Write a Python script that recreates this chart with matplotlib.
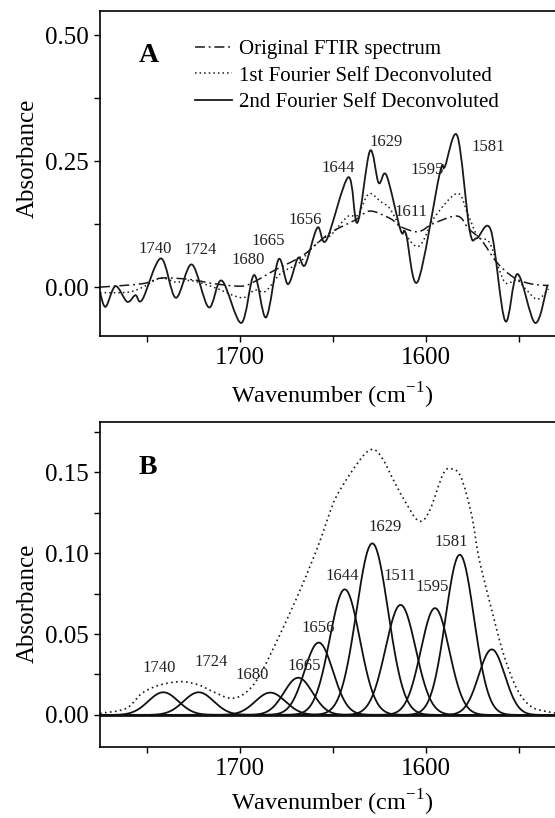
import numpy as np
import matplotlib
matplotlib.use("Agg")
import matplotlib.pyplot as plt
from matplotlib.path import Path
from matplotlib.patches import PathPatch
from matplotlib.lines import Line2D

plt.rcParams['font.family'] = ['Liberation Serif', 'DejaVu Serif']
plt.rcParams['mathtext.fontset'] = 'custom'
plt.rcParams['mathtext.rm'] = 'Liberation Serif'

# Panel A: spectra (wavenumber, absorbance)
fsd2_wn = [1775, 1772, 1766.7, 1760.4, 1756, 1752.3, 1742.3, 1734.3, 1725.7, 1716.6,
           1709.6, 1699.1, 1692.2, 1685.8, 1679.1, 1674.0, 1668.6, 1664.8, 1658.2, 1653.4,
           1641.6, 1636.7, 1630.0, 1625.3, 1621.1, 1613.5, 1610.6, 1604.3, 1592.5, 1589.7,
           1583.0, 1576.4, 1572.6, 1565.0, 1557.3, 1550.7, 1541.2, 1534.5]
fsd2_abs = [-0.010, -0.039, 0.002, -0.029, -0.016, -0.025, 0.057, -0.021, 0.045, -0.040,
            0.013, -0.071, 0.024, -0.060, 0.055, 0.006, 0.058, 0.044, 0.118, 0.093,
            0.218, 0.128, 0.270, 0.207, 0.222, 0.113, 0.106, 0.011, 0.225, 0.239,
            0.300, 0.113, 0.097, 0.113, -0.067, 0.026, -0.071, 0.005]

fsd1_wn = [1775, 1760, 1752, 1742.5, 1734, 1726, 1714, 1699, 1692, 1686, 1678, 1668,
           1662, 1655, 1651, 1642, 1636.5, 1630.6, 1624, 1619.5, 1613.5, 1604, 1595,
           1583, 1577.5, 1572, 1566, 1561, 1557, 1551, 1546, 1540, 1534]
fsd1_abs = [-0.011, -0.010, 0.000, 0.018, 0.010, 0.013, 0.000, -0.021, -0.006, -0.008,
            0.027, 0.048, 0.075, 0.097, 0.103, 0.140, 0.143, 0.185, 0.169, 0.157, 0.120,
            0.081, 0.140, 0.186, 0.146, 0.100, 0.090, 0.040, 0.008, 0.014, -0.005,
            -0.024, -0.004]

orig_wn = [1775, 1752, 1742, 1726, 1714, 1699, 1692, 1681, 1666, 1652, 1638, 1630,
           1619, 1613.5, 1604, 1596, 1583, 1577, 1570, 1562, 1553, 1544, 1534]
orig_abs = [0.000, 0.007, 0.018, 0.015, 0.007, 0.002, 0.011, 0.034, 0.063, 0.106, 0.133,
            0.151, 0.136, 0.120, 0.110, 0.126, 0.141, 0.116, 0.093, 0.050, 0.020, 0.007,
            0.003]

labels_a = ['1740', '1724', '1680', '1665', '1656', '1644', '1629', '1611', '1595', '1581']
labels_a_x = [1745.2, 1721.4, 1695.3, 1684.4, 1664.8, 1647.1, 1621.5, 1607.8, 1599.2, 1566.3]
labels_a_y = [0.075, 0.073, 0.054, 0.092, 0.133, 0.237, 0.288, 0.149, 0.232, 0.278]

# Panel B: fitted bands (centre, height, FWHM) and the envelope
band_center = [1741, 1722, 1683.5, 1668.5, 1657.5, 1643.5, 1628.7, 1613.5, 1595, 1581.7, 1564.5]
band_height = [0.014, 0.014, 0.0138, 0.023, 0.0447, 0.0776, 0.106, 0.068, 0.066, 0.099, 0.0405]
band_fwhm = [19, 19, 19, 18, 18, 19, 20, 19, 18, 18, 16.5]

env_wn = [1775, 1761, 1752.4, 1742.9, 1731.4, 1721.9, 1714.3, 1704.8, 1697.2, 1689.6,
          1678.2, 1666.8, 1657.3, 1649.6, 1643.9, 1638.2, 1632.5, 1627.7, 1623.0, 1617.3,
          1611.6, 1604.0, 1598.2, 1590.6, 1585.9, 1581.1, 1575.4, 1571.6, 1565.9, 1558.3,
          1550.7, 1543.1, 1534.5, 1529]
env_abs = [0.001, 0.004, 0.0134, 0.0185, 0.0206, 0.0185, 0.0144, 0.0103, 0.0134, 0.0237,
           0.050, 0.079, 0.106, 0.131, 0.143, 0.153, 0.1615, 0.164, 0.158, 0.145,
           0.133, 0.120, 0.1255, 0.149, 0.152, 0.147, 0.124, 0.098, 0.071, 0.038,
           0.0154, 0.005, 0.002, 0.001]

labels_b = ['1740', '1724', '1680', '1665', '1656', '1644', '1629', '1511', '1595', '1581']
labels_b_x = [1743.4, 1715.3, 1693.0, 1665.2, 1657.6, 1644.9, 1622.0, 1613.8, 1596.7, 1586.4]
labels_b_y = [0.029, 0.033, 0.0247, 0.030, 0.0535, 0.086, 0.116, 0.086, 0.079, 0.107]


def smooth_path(xs, ys):
    # Catmull-Rom curve through the read points, drawn as cubic Bezier segments
    pts = np.column_stack([xs, ys]).astype(float)
    verts = [pts[0]]
    codes = [Path.MOVETO]
    n = len(pts)
    for i in range(n - 1):
        p0 = pts[i - 1] if i > 0 else pts[i]
        p1, p2 = pts[i], pts[i + 1]
        p3 = pts[i + 2] if i + 2 < n else pts[i + 1]
        verts += [p1 + (p2 - p0) / 6, p2 - (p3 - p1) / 6, p2]
        codes += [Path.CURVE4] * 3
    return Path(verts, codes)


dashdot = (0, (6.5, 2.5, 1.2, 2.5))
dotted = (0, (1, 2))
lw = 1.1

fig = plt.figure(figsize=(5.55, 8.18), dpi=100)
ax1 = fig.add_axes([0.1802, 0.5892, 0.8216, 0.3974])
ax2 = fig.add_axes([0.1802, 0.0868, 0.8216, 0.3973])

# ---- panel A
ax1.add_patch(PathPatch(smooth_path(orig_wn, orig_abs), fill=False, lw=lw, ls=dashdot, color='#1a1a1a'))
ax1.add_patch(PathPatch(smooth_path(fsd1_wn, fsd1_abs), fill=False, lw=lw, ls=dotted, color='#1a1a1a'))
ax1.add_patch(PathPatch(smooth_path(fsd2_wn, fsd2_abs), fill=False, lw=1.3, ls='-', color='#1a1a1a'))
for t, x, y in zip(labels_a, labels_a_x, labels_a_y):
    ax1.text(x, y, t, fontsize=12, ha='center', va='center', color='#222222')
ax1.set_xlim(1775, 1530)
ax1.set_ylim(-0.097, 0.548)
ax1.set_yticks([0.0, 0.25, 0.5])
ax1.set_yticks([0.125, 0.375], minor=True)
ax1.set_yticklabels(['0.00', '0.25', '0.50'])
ax1.text(0.107, 0.862, 'A', transform=ax1.transAxes, fontsize=20, fontweight='bold',
         ha='center', va='center')
handles = [Line2D([], [], color='#1a1a1a', lw=lw, ls=dashdot),
           Line2D([], [], color='#1a1a1a', lw=lw, ls=dotted),
           Line2D([], [], color='#1a1a1a', lw=1.3, ls='-')]
ax1.legend(handles, ['Original FTIR spectrum', '1st Fourier Self Deconvoluted',
                     '2nd Fourier Self Deconvoluted'],
           loc='upper left', bbox_to_anchor=(0.208, 0.912), frameon=False, fontsize=15,
           borderpad=0, borderaxespad=0, labelspacing=0.33, handlelength=1.8,
           handletextpad=0.3)

# ---- panel B
grid = np.linspace(1780, 1525, 1200)
for c, h, w in zip(band_center, band_height, band_fwhm):
    s = w / 2.3548
    ax2.plot(grid, h * np.exp(-(grid - c) ** 2 / (2 * s * s)), color='#111111', lw=1.3)
ax2.axhline(0, color='#111111', lw=2.0)
ax2.add_patch(PathPatch(smooth_path(env_wn, env_abs), fill=False, lw=1.2, ls=dotted, color='#1a1a1a'))
for t, x, y in zip(labels_b, labels_b_x, labels_b_y):
    ax2.text(x, y, t, fontsize=12, ha='center', va='center', color='#222222')
ax2.set_xlim(1775, 1530)
ax2.set_ylim(-0.0198, 0.181)
ax2.set_yticks([0.0, 0.05, 0.10, 0.15])
ax2.set_yticks([0.025, 0.075, 0.125, 0.175], minor=True)
ax2.set_yticklabels(['0.00', '0.05', '0.10', '0.15'])
ax2.text(0.105, 0.86, 'B', transform=ax2.transAxes, fontsize=20, fontweight='bold',
         ha='center', va='center')

for ax, ylab_y, xlab_y in [(ax1, 0.548, -0.138), (ax2, 0.443, -0.124)]:
    ax.set_xticks([1750, 1700, 1650, 1600, 1550])
    ax.set_xticklabels(['', '1700', '', '1600', ''])
    ax.tick_params(which='both', direction='out', length=4.5, width=1.0, labelsize=18, pad=3.5)
    for sp in ax.spines.values():
        sp.set_linewidth(1.2)
    ax.set_ylabel('Absorbance', fontsize=18)
    ax.set_xlabel('Wavenumber (cm$^{\\mathregular{-1}}$)', fontsize=17.5)
    ax.yaxis.set_label_coords(-0.135, ylab_y)
    ax.xaxis.set_label_coords(0.51, xlab_y)

fig.savefig('out.png', dpi=100)
